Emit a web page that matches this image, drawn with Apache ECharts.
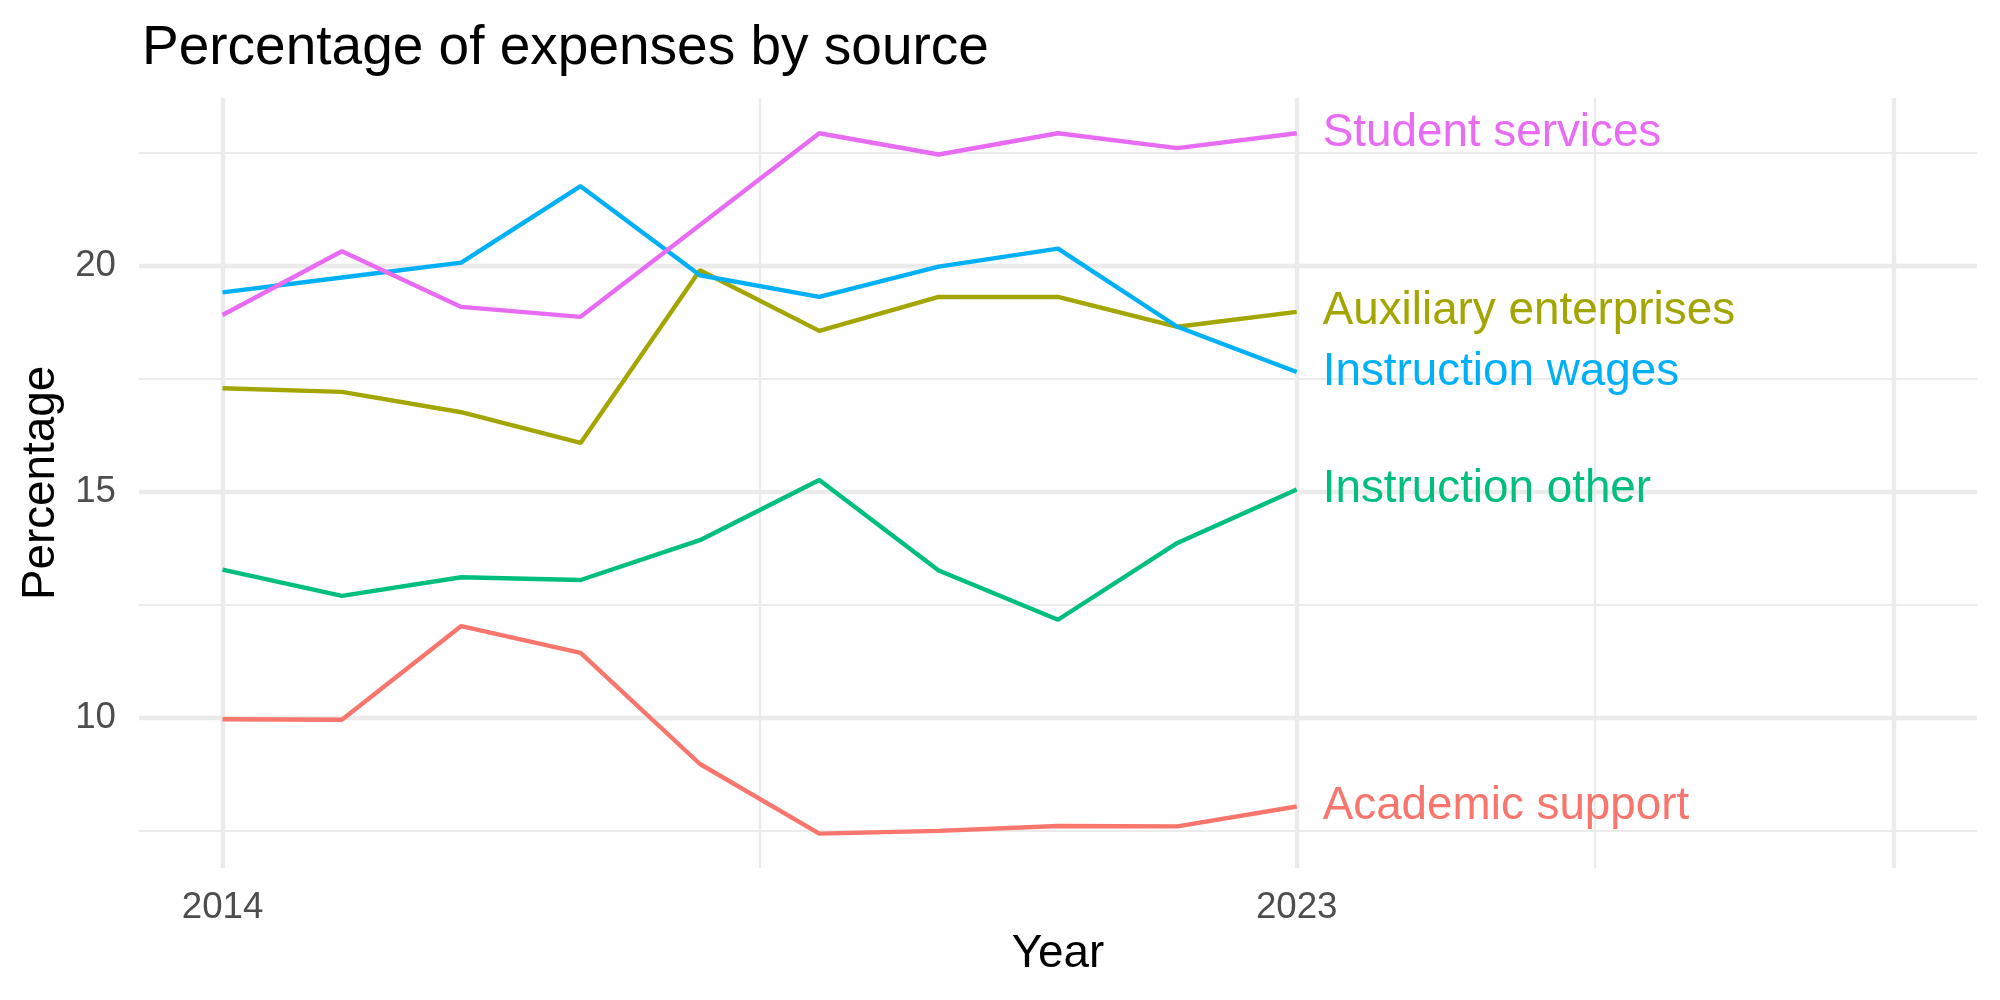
<!DOCTYPE html>
<html>
<head>
<meta charset="utf-8">
<title>Percentage of expenses by source</title>
<script src="https://cdn.jsdelivr.net/npm/echarts@6/dist/echarts.min.js"></script>
<style>
  html, body { margin: 0; padding: 0; background: #fff; }
  #chart { width: 2000px; height: 1000px; }
</style>
</head>
<body>
<div id="chart"></div>
<script>
// years on the x axis
var years = [2014, 2015, 2016, 2017, 2018, 2019, 2020, 2021, 2022, 2023];

// percentages
var academicSupport = [9.97, 9.96, 12.03, 11.44, 8.98, 7.44, 7.50, 7.61, 7.60, 8.04];
var auxiliaryEnterprises = [17.29, 17.21, 16.76, 16.08, 19.90, 18.56, 19.31, 19.31, 18.65, 18.98];
var instructionOther = [13.28, 12.70, 13.11, 13.05, 13.93, 15.26, 13.26, 12.17, 13.87, 15.05];
var instructionWages = [19.41, 19.74, 20.07, 21.76, 19.79, 19.31, 19.98, 20.38, 18.65, 17.65];
var studentServices = [18.91, 20.32, 19.09, 18.87, 20.90, 22.93, 22.46, 22.93, 22.60, 22.93];

var seriesNames = ['Academic support', 'Auxiliary enterprises', 'Instruction other', 'Instruction wages', 'Student services'];
var seriesValues = [academicSupport, auxiliaryEnterprises, instructionOther, instructionWages, studentServices];
var seriesColors = ['#F8766D', '#A3A500', '#00BF7D', '#00B0F6', '#E76BF3'];

// tick labels and grid breaks
var xTickLabels = [2014, 2023];
var yTickLabels = [10, 15, 20];
var xMajorBreaks = [2014, 2023, 2028];
var xMinorBreaks = [2018.5, 2025.5];
var yMajorBreaks = [10, 15, 20];
var yMinorBreaks = [7.5, 12.5, 17.5, 22.5];

var FONT = '"Liberation Sans", Arial, Helvetica, sans-serif';
var GRID_COLOR = '#EBEBEB';

function pairs(xs, ys) {
    var out = [];
    for (var i = 0; i < xs.length; i++) {
        out.push([xs[i], ys[i]]);
    }
    return out;
}

function gridLines() {
    var lines = [];
    xMajorBreaks.forEach(function (v) {
        lines.push({ xAxis: v, lineStyle: { width: 4.4 } });
    });
    xMinorBreaks.forEach(function (v) {
        lines.push({ xAxis: v, lineStyle: { width: 2.2 } });
    });
    yMajorBreaks.forEach(function (v) {
        lines.push({ yAxis: v, lineStyle: { width: 4.4 } });
    });
    yMinorBreaks.forEach(function (v) {
        lines.push({ yAxis: v, lineStyle: { width: 2.2 } });
    });
    return lines;
}

var series = seriesNames.map(function (name, i) {
    var s = {
        name: name,
        type: 'line',
        z: 3,
        data: pairs(years, seriesValues[i]),
        showSymbol: false,
        symbol: 'none',
        lineStyle: { color: seriesColors[i], width: 4.4 },
        itemStyle: { color: seriesColors[i] },
        emphasis: { disabled: true },
        endLabel: {
            show: true,
            formatter: '{a}',
            distance: 26,
            color: seriesColors[i],
            fontSize: 45.8,
            fontFamily: FONT
        }
    };
    if (i === 0) {
        // background grid drawn through the axes' own scales
        s.markLine = {
            z: 1,
            silent: true,
            symbol: ['none', 'none'],
            label: { show: false },
            emphasis: { disabled: true },
            lineStyle: { color: GRID_COLOR, type: 'solid', opacity: 1 },
            data: gridLines()
        };
    }
    return s;
});

var option = {
    animation: false,
    backgroundColor: '#ffffff',
    title: {
        text: 'Percentage of expenses by source',
        left: 137,
        top: 16,
        textStyle: {
            color: '#000000',
            fontSize: 55,
            fontWeight: 'normal',
            fontFamily: FONT
        }
    },
    grid: {
        left: 139,
        right: 23,
        top: 98,
        bottom: 132
    },
    xAxis: {
        type: 'value',
        min: 2013.3,
        max: 2028.7,
        name: 'Year',
        nameLocation: 'middle',
        nameGap: 62,
        nameTextStyle: { color: '#000000', fontSize: 45.8, fontFamily: FONT },
        axisLine: { show: false },
        axisTick: { show: false },
        splitLine: { show: false },
        axisLabel: {
            customValues: xTickLabels,
            margin: 21,
            color: '#4D4D4D',
            fontSize: 36.7,
            fontFamily: FONT,
            formatter: function (v) { return String(v); }
        }
    },
    yAxis: {
        type: 'value',
        min: 6.68,
        max: 23.71,
        name: 'Percentage',
        nameLocation: 'middle',
        nameRotate: 90,
        nameGap: 71,
        nameTextStyle: { color: '#000000', fontSize: 45.8, fontFamily: FONT },
        axisLine: { show: false },
        axisTick: { show: false },
        splitLine: { show: false },
        axisLabel: {
            customValues: yTickLabels,
            margin: 23,
            color: '#4D4D4D',
            fontSize: 36.7,
            fontFamily: FONT
        }
    },
    series: series
};

var chart = echarts.init(document.getElementById('chart'));
chart.setOption(option);
</script>
</body>
</html>
